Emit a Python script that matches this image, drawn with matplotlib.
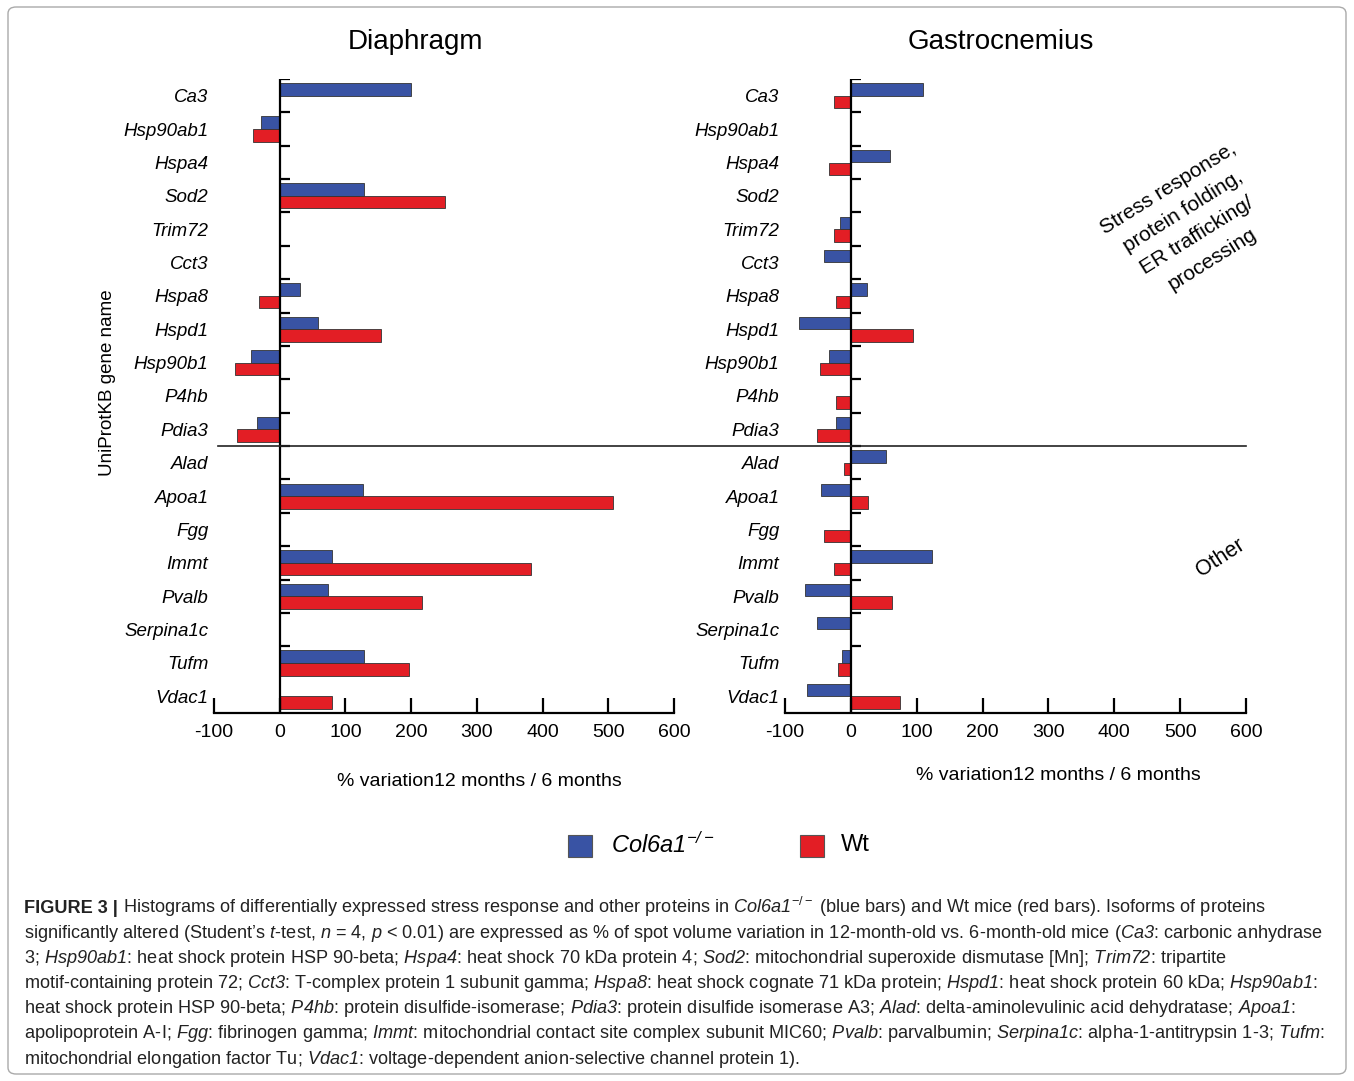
import matplotlib
matplotlib.use('Agg')
import matplotlib.pyplot as plt
from matplotlib.patches import Rectangle, FancyBboxPatch
from matplotlib.lines import Line2D
import numpy as np

plt.rcParams['font.family'] = 'Liberation Sans'
plt.rcParams['mathtext.fontset'] = 'custom'
plt.rcParams['mathtext.rm'] = 'Liberation Sans'
plt.rcParams['mathtext.it'] = 'Liberation Sans:italic'
plt.rcParams['mathtext.sf'] = 'Liberation Sans:italic'
plt.rcParams['mathtext.bf'] = 'Liberation Sans:bold'
plt.rcParams['axes.unicode_minus'] = False

nan = np.nan
genes = ['Ca3', 'Hsp90ab1', 'Hspa4', 'Sod2', 'Trim72', 'Cct3', 'Hspa8', 'Hspd1',
         'Hsp90b1', 'P4hb', 'Pdia3', 'Alad', 'Apoa1', 'Fgg', 'Immt', 'Pvalb',
         'Serpina1c', 'Tufm', 'Vdac1']
# % variation 12 months / 6 months
dia_ko = [200, -29, nan, 128, nan, nan, 31, 58, -44, nan, -35,
          nan, 126, nan, 79, 73, nan, 128, nan]
dia_wt = [nan, -41, nan, 251, nan, nan, -32, 154, -68, nan, -65,
          nan, 507, nan, 383, 217, nan, 196, 79]
gas_ko = [109, nan, 60, nan, -17, -41, 25, -78, -33, nan, -23,
          54, -45, nan, 123, -70, -52, -14, -67]
gas_wt = [-26, nan, -33, nan, -26, nan, -23, 94, -47, -23, -51,
          -10, 26, -41, -26, 63, nan, -20, 74]
xticks = [-100, 0, 100, 200, 300, 400, 500, 600]
n_stress = 11

blue = '#3953a4'
red = '#e31e25'

W, H = 1354, 1081
def fx(px): return px / W
def fy(py): return 1 - py / H

fig = plt.figure(figsize=(W / 100, H / 100), dpi=100)

ax1 = fig.add_axes([fx(214), fy(713), 460 / W, (713 - 79) / H])
ax2 = fig.add_axes([fx(785), fy(713), 461 / W, (713 - 79) / H])


def draw_panel(ax, ko, wt):
    y = np.arange(len(genes))
    ax.barh(y - 0.19, ko, height=0.375, color=blue, edgecolor='#333333', linewidth=0.6)
    ax.barh(y + 0.19, wt, height=0.375, color=red, edgecolor='#333333', linewidth=0.6)
    ax.set_xlim(-100, 600)
    ax.set_ylim(len(genes) - 0.5, -0.5)
    ax.axvline(0, color='black', lw=1.6)
    ax.hlines(y[:-1] - 0.5, 0, 15, color='black', lw=1.6)
    for s in ['top', 'right', 'left']:
        ax.spines[s].set_visible(False)
    ax.spines['bottom'].set_linewidth(1.6)
    ax.set_xticks(xticks)
    ax.tick_params(axis='x', direction='in', length=11, width=1.6, labelsize=14, pad=8)
    ax.set_yticks(y)
    ax.set_yticklabels(genes, fontstyle='italic', fontsize=13.5)
    ax.tick_params(axis='y', length=0, pad=4)
    ax.patch.set_alpha(0)


draw_panel(ax1, dia_ko, dia_wt)
draw_panel(ax2, gas_ko, gas_wt)

fig.text(fx(416), fy(42), 'Diaphragm', ha='center', va='center', fontsize=20)
fig.text(fx(1001), fy(42), 'Gastrocnemius', ha='center', va='center', fontsize=20)
fig.text(fx(479), fy(782), '% variation12 months / 6 months', ha='center', va='center', fontsize=14)
fig.text(fx(1058), fy(775), '% variation12 months / 6 months', ha='center', va='center', fontsize=14)
fig.text(fx(108), fy(383), 'UniProtKB gene name', rotation=90, ha='center', va='center', fontsize=13.5)

fig.text(fx(1190), fy(224), 'Stress response,\nprotein folding,\nER trafficking/\nprocessing',
         rotation=32, ha='center', va='center', multialignment='center',
         fontsize=15, linespacing=1.6, rotation_mode='anchor')
fig.text(fx(1220), fy(558), 'Other', rotation=33, ha='center', va='center',
         fontsize=15.5, rotation_mode='anchor')

# separator between the two protein groups
inv = fig.transFigure.inverted()
p0 = inv.transform(ax1.transData.transform((-94, n_stress - 0.5)))
p1 = inv.transform(ax2.transData.transform((600, n_stress - 0.5)))
fig.add_artist(Line2D([p0[0], p1[0]], [p0[1], p1[1]], color='#222222', lw=1.2))

# legend
fig.add_artist(Rectangle((fx(568), fy(857)), 24 / W, 22 / H, facecolor=blue,
                         edgecolor='#555555', lw=0.8, transform=fig.transFigure))
fig.text(fx(611), fy(845), r'$\mathsf{Col6a1}^{\mathsf{-/-}}$', va='center', fontsize=17)
fig.add_artist(Rectangle((fx(800), fy(857)), 24 / W, 22 / H, facecolor=red,
                         edgecolor='#555555', lw=0.8, transform=fig.transFigure))
fig.text(fx(841), fy(845), 'Wt', va='center', fontsize=17)

# frame
fig.add_artist(FancyBboxPatch((fx(8), fy(1074)), 1338 / W, 1067 / H,
                              boxstyle='round,pad=0,rounding_size=0.006',
                              facecolor='none', edgecolor='#aaaaaa', lw=1.0,
                              transform=fig.transFigure))

# caption
cap_lines = [
    r"Histograms of differentially expressed stress response and other proteins in $\mathsf{Col6a1}^{-/-}$ (blue bars) and Wt mice (red bars). Isoforms of proteins",
    r"significantly altered (Student’s $\mathsf{t}$-test, $\mathsf{n}$ = 4, $\mathsf{p}$ < 0.01) are expressed as % of spot volume variation in 12-month-old vs. 6-month-old mice ($\mathsf{Ca3}$: carbonic anhydrase",
    r"3; $\mathsf{Hsp90ab1}$: heat shock protein HSP 90-beta; $\mathsf{Hspa4}$: heat shock 70 kDa protein 4; $\mathsf{Sod2}$: mitochondrial superoxide dismutase [Mn]; $\mathsf{Trim72}$: tripartite",
    r"motif-containing protein 72; $\mathsf{Cct3}$: T-complex protein 1 subunit gamma; $\mathsf{Hspa8}$: heat shock cognate 71 kDa protein; $\mathsf{Hspd1}$: heat shock protein 60 kDa; $\mathsf{Hsp90ab1}$:",
    r"heat shock protein HSP 90-beta; $\mathsf{P4hb}$: protein disulfide-isomerase; $\mathsf{Pdia3}$: protein disulfide isomerase A3; $\mathsf{Alad}$: delta-aminolevulinic acid dehydratase; $\mathsf{Apoa1}$:",
    r"apolipoprotein A-I; $\mathsf{Fgg}$: fibrinogen gamma; $\mathsf{Immt}$: mitochondrial contact site complex subunit MIC60; $\mathsf{Pvalb}$: parvalbumin; $\mathsf{Serpina1c}$: alpha-1-antitrypsin 1-3; $\mathsf{Tufm}$:",
    r"mitochondrial elongation factor Tu; $\mathsf{Vdac1}$: voltage-dependent anion-selective channel protein 1).",
]
renderer = fig.canvas.get_renderer()
probe = fig.text(fx(24), fy(938), cap_lines[1], fontsize=12.5, color='#222222')
wline = probe.get_window_extent(renderer).width
probe.remove()
cap_size = 12.5 * 1302 / wline

line_y = [907, 932, 957, 982, 1007, 1032, 1058]
bold = fig.text(fx(24), fy(line_y[0] + 6), 'FIGURE 3 |', fontsize=cap_size,
                fontweight='bold', va='baseline', color='#222222')
bw = bold.get_window_extent(renderer).width
for i, (txt, yy) in enumerate(zip(cap_lines, line_y)):
    x0 = 24 + (bw + 5 if i == 0 else 0)
    fig.text(fx(x0), fy(yy + 6), txt, fontsize=cap_size, va='baseline', color='#222222')

fig.savefig('out.png', dpi=100)
